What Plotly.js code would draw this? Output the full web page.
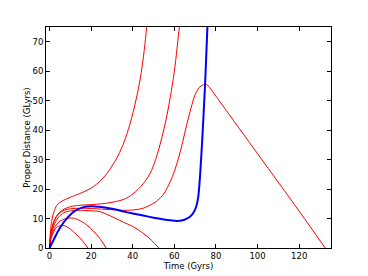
<!DOCTYPE html>
<html>
<head>
<meta charset="utf-8">
<script src="https://cdn.plot.ly/plotly-3.0.1.min.js"></script>
<style>html,body{margin:0;padding:0;background:#fff;}#chart{width:368px;height:276px;}</style>
</head>
<body>
<div id="chart"></div>
<script>
// Red worldlines (time in Gyrs, proper distance in GLyrs)
const tA = [0, 0.5, 1, 2, 3.5, 5, 8, 11, 14, 18, 21, 24, 27.5, 30, 32.3, 35, 38, 41, 43.5, 45.5, 46.7, 47.5];
const dA = [0, 6, 9, 12, 14.5, 15.5, 16.6, 17.5, 18.3, 19.6, 20.8, 22.5, 25.2, 27.8, 30.5, 34.5, 40.5, 48.5, 57, 67, 75, 80];

const tB = [0, 0.5, 1, 2, 4, 7, 10, 13, 17, 20, 25, 30, 36, 40, 45, 48.3, 51, 54, 56, 58, 60, 62.4, 63];
const dB = [0, 4.5, 6.5, 9, 11.5, 13.2, 14, 14.4, 14.6, 14.7, 15, 15.5, 16.6, 18.3, 21.8, 25.3, 30, 37.5, 43.5, 51, 60, 75, 79];

const tC = [0, 0.5, 1, 2, 4, 7, 10, 15, 20, 25, 30, 35, 40, 45, 50, 52, 55, 58, 60, 62, 64, 66, 68, 70, 72, 74, 75.5, 77, 80, 100, 120, 132.5];
const dC = [0, 4, 5.8, 8.5, 11.3, 12.8, 13.3, 13.5, 13.4, 13.2, 13, 12.8, 12.9, 13.5, 15.2, 16.2, 18.5, 22.5, 26, 30.5, 36, 42, 47.5, 52, 54.5, 55.4, 55.5, 54.4, 51.5, 32, 12.5, 0];

const tD = [0, 0.5, 1, 2, 4, 7, 10, 15, 20, 24.3, 31, 36, 40.3, 45, 49, 52.6];
const dD = [0, 3.5, 5, 7.5, 10.2, 12, 12.6, 12.8, 12.6, 12.3, 10.3, 8.6, 7.2, 5, 2.6, 0];

const tE = [0, 0.5, 1, 2, 4, 7, 10.7, 13, 17, 21, 24, 27.2];
const dE = [0, 3, 4.3, 6.3, 8.5, 9.8, 10.2, 9.8, 8.3, 5.8, 3.4, 0];

const tF = [0, 0.5, 1, 2, 3, 4.5, 5.9, 8, 10, 13, 16, 18.4];
const dF = [0, 2.5, 3.8, 5.5, 6.7, 7.4, 7.7, 7.3, 6.4, 4.5, 2.3, 0];

// Blue light ray
const tL = [0, 2, 4, 7, 10, 13, 16, 20, 25, 30, 35, 40, 45, 50, 55, 58, 61.2, 64, 66, 67.5, 69, 70.5, 71.5, 72.4, 73.5, 74.8, 75.9, 76.3];
const dL = [0, 2.8, 5.6, 8.9, 11.3, 12.9, 13.8, 14.2, 13.9, 13.3, 12.5, 11.7, 11, 10.3, 9.7, 9.4, 9.2, 9.4, 10, 10.6, 11.8, 14, 17.4, 25, 38, 56, 75, 80];

const xTicks = [0, 20, 40, 60, 80, 100, 120];
const yTicks = [0, 10, 20, 30, 40, 50, 60, 70];

const red = {color: '#ff0000', width: 1, shape: 'spline', smoothing: 1};
const mk = (x, y, line) => ({x: x, y: y, mode: 'lines', line: line, hoverinfo: 'skip', showlegend: false});

const data = [
  mk(tA, dA, red), mk(tB, dB, red), mk(tC, dC, red),
  mk(tD, dD, red), mk(tE, dE, red), mk(tF, dF, red),
  mk(tL, dL, {color: '#0000ff', width: 2, shape: 'spline', smoothing: 0.6})
];

const axisCommon = {
  showgrid: false, zeroline: false, showline: true, linecolor: '#000', linewidth: 1,
  mirror: 'ticks', ticks: 'inside', ticklen: 4, tickwidth: 1, tickcolor: '#000',
  tickfont: {family: 'DejaVu Sans', size: 8.5, color: '#000'}
};

const layout = {
  width: 368, height: 276,
  margin: {l: 46, r: 37, t: 27, b: 28, pad: 0},
  paper_bgcolor: '#fff', plot_bgcolor: '#fff',
  xaxis: Object.assign({}, axisCommon, {
    range: [-1.7, 135.3], tickvals: xTicks, ticktext: xTicks.map(String),
    title: {text: 'Time (Gyrs)', font: {family: 'DejaVu Sans', size: 8.5, color: '#000'}, standoff: 0}
  }),
  yaxis: Object.assign({}, axisCommon, {
    range: [0, 75], tickvals: yTicks, ticktext: yTicks.map(String),
    title: {text: 'Proper Distance (GLyrs)', font: {family: 'DejaVu Sans', size: 8.5, color: '#000'}, standoff: 0}
  })
};

Plotly.newPlot('chart', data, layout, {staticPlot: true, displayModeBar: false});
</script>
</body>
</html>
